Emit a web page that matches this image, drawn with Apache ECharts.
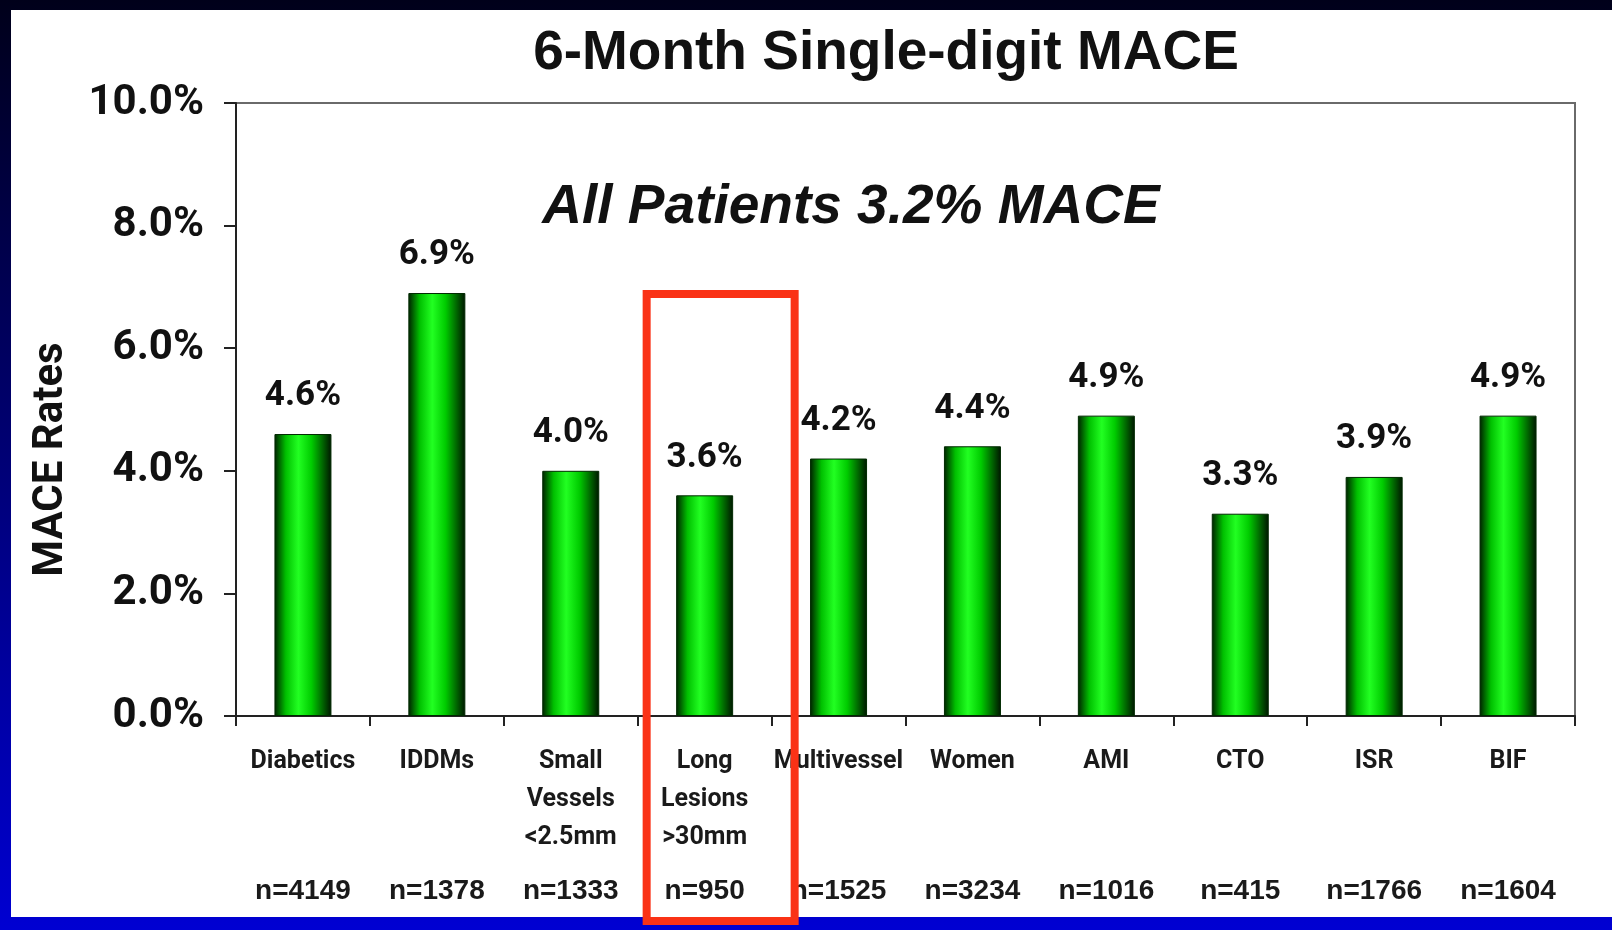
<!DOCTYPE html>
<html>
<head>
<meta charset="utf-8">
<style>
	html, body { margin: 0; padding: 0; }
	#main { width: 1612px; height: 930px; }
</style>
<script src="https://cdn.jsdelivr.net/npm/echarts@6/dist/echarts.min.js"></script>
</head>
<body>
<div id="main"></div>
<script>
var categories = ['Diabetics', 'IDDMs', 'Small\nVessels\n<2.5mm', 'Long\nLesions\n>30mm', 'Multivessel', 'Women', 'AMI', 'CTO', 'ISR', 'BIF'];
var maceRates = [4.6, 6.9, 4.0, 3.6, 4.2, 4.4, 4.9, 3.3, 3.9, 4.9];
var patientCounts = ['n=4149', 'n=1378', 'n=1333', 'n=950', 'n=1525', 'n=3234', 'n=1016', 'n=415', 'n=1766', 'n=1604'];
var highlighted = 'Long\nLesions\n>30mm';

var narrow = "'Liberation Sans Narrow', 'Arial Narrow', Roboto, sans-serif";
var wide = "'Liberation Sans', Arial, sans-serif";

var myChart = echarts.init(document.getElementById('main'));
var panel = {
	type: 'rect',
	z: -10,
	shape: {x: 11, y: 10, width: 1601, height: 907},
	style: {fill: '#ffffff'}
};
var option = {
	backgroundColor: new echarts.graphic.LinearGradient(0, 0, 0, 1, [
		{offset: 0, color: '#00001a'},
		{offset: 1, color: '#0000d2'}
	]),
	graphic: [panel],
	title: [{
		text: '6-Month Single-digit MACE',
		left: 886, top: 26, padding: 0,
		textAlign: 'center',
		textStyle: {fontFamily: wide, fontWeight: 'bold', fontSize: 55, color: '#111'}
	}, {
		text: 'All Patients 3.2% MACE',
		left: 851, top: 180, padding: 0,
		textAlign: 'center',
		textStyle: {fontFamily: wide, fontWeight: 'bold', fontStyle: 'italic', fontSize: 55, color: '#111'}
	}],
	grid: {
		left: 236, right: 37, top: 103, bottom: 214,
		show: true, borderColor: '#6a6a6a', borderWidth: 2
	},
	xAxis: [{
		type: 'category',
		data: categories,
		axisLine: {lineStyle: {color: '#222', width: 2}},
		axisTick: {show: true, length: 10, lineStyle: {color: '#222', width: 2}},
		axisLabel: {
			interval: 0, margin: 27, fontFamily: narrow, fontWeight: 'bold',
			fontSize: 25, lineHeight: 38, color: '#1a1a1a'
		}
	}, {
		type: 'category',
		position: 'bottom',
		data: patientCounts,
		axisLine: {show: false},
		axisTick: {show: false},
		axisLabel: {
			interval: 0, margin: 161, fontFamily: wide, fontWeight: 'bold',
			fontSize: 28, color: '#1a1a1a'
		}
	}],
	yAxis: {
		type: 'value',
		min: 0, max: 10, interval: 2,
		name: 'MACE Rates',
		nameLocation: 'middle',
		nameRotate: 90,
		nameGap: 164,
		nameTextStyle: {
			fontFamily: narrow, fontWeight: 'bold', fontSize: 42, color: '#111',
			padding: [0, 100, 0, 0]
		},
		splitLine: {show: false},
		axisLine: {show: true, lineStyle: {color: '#222', width: 2}},
		axisTick: {show: true, length: 12, lineStyle: {color: '#222', width: 2}},
		axisLabel: {
			margin: 32, fontFamily: narrow, fontWeight: 'bold', fontSize: 42, color: '#111',
			formatter: function (v) { return v.toFixed(1) + '%'; }
		}
	},
	series: [{
		type: 'bar',
		data: maceRates,
		barWidth: 57,
		itemStyle: {
			borderColor: '#002a00',
			borderWidth: 1,
			color: new echarts.graphic.LinearGradient(0, 0, 1, 0, [
				{offset: 0, color: '#002000'},
				{offset: 0.2, color: '#00c000'},
				{offset: 0.42, color: '#22ff22'},
				{offset: 0.65, color: '#00cc00'},
				{offset: 1, color: '#001500'}
			])
		},
		label: {
			show: true, position: 'top', distance: 20,
			fontFamily: narrow, fontWeight: 'bold', fontSize: 35, color: '#111',
			formatter: function (p) { return p.value.toFixed(1) + '%'; }
		}
	}]
};
myChart.setOption(option);

// red highlight frame around the long lesions column
var cx = myChart.convertToPixel({xAxisIndex: 0}, highlighted);
myChart.setOption({
	graphic: [panel, {
		type: 'rect',
		z: 100,
		shape: {x: cx - 58, y: 294, width: 148, height: 627},
		style: {fill: null, stroke: '#fa3216', lineWidth: 8}
	}]
});
</script>
</body>
</html>
